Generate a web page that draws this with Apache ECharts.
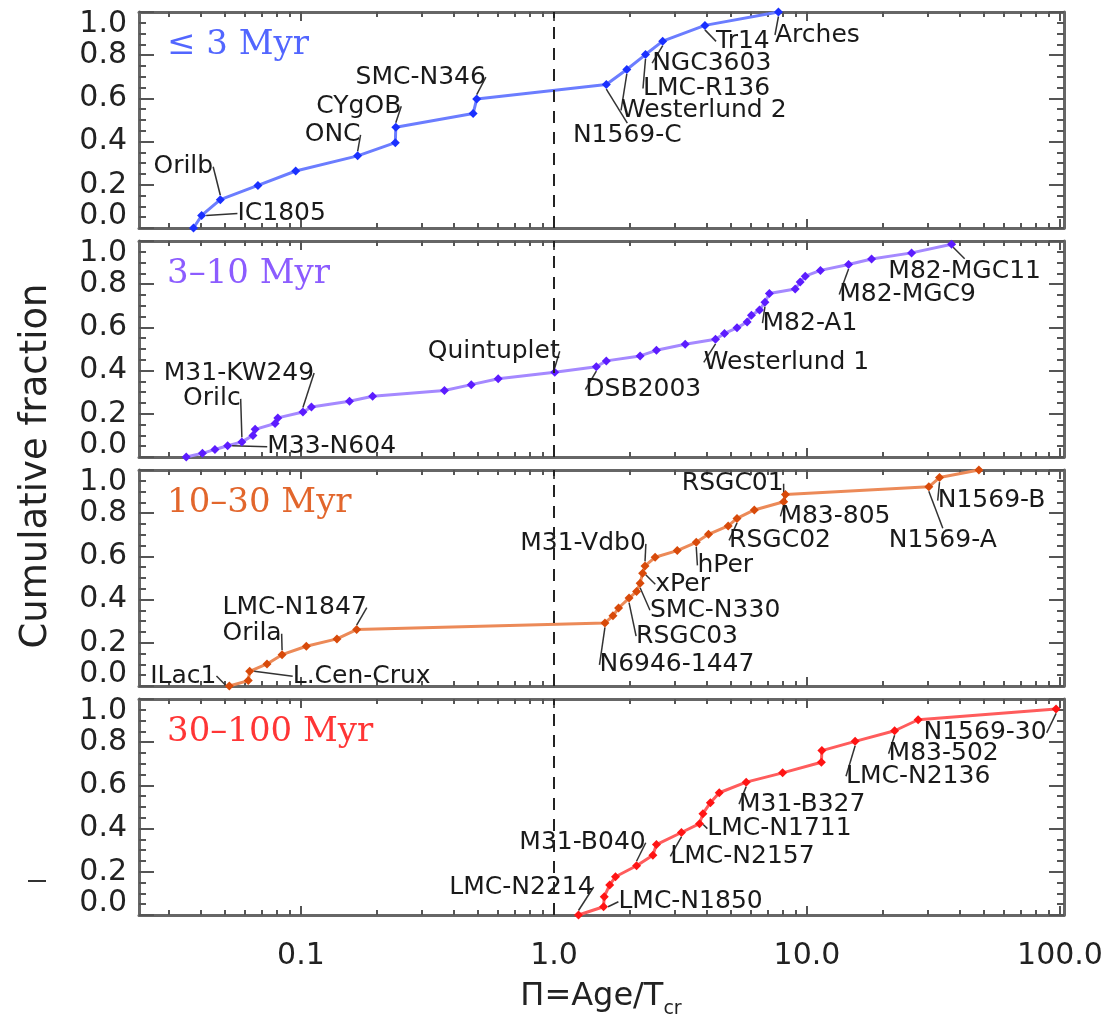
<!DOCTYPE html>
<html><head><meta charset="utf-8">
<script src="https://cdn.jsdelivr.net/npm/echarts@6/dist/echarts.min.js"></script>
<style>
html,body{margin:0;padding:0;background:#fff}
#wrap{position:relative;width:1102px;height:1016px}
#base,#c{position:absolute;left:0;top:0;width:1102px;height:1016px}
</style>
</head><body><div id="wrap"><div id="base"></div><div id="c"></div></div>
<script>
// ---------- data ----------
const xTickValues = [0.1, 1, 10, 100];
const xMinorValues = [0.03,0.04,0.05,0.06,0.07,0.08,0.09,0.2,0.3,0.4,0.5,0.6,0.7,0.8,0.9,2,3,4,5,6,7,8,9,20,30,40,50,60,70,80,90];
const panelNames = ['≤ 3 Myr', '3–10 Myr', '10–30 Myr', '30–100 Myr'];
const xTitle = 'Π=Age/T';
const xTitleSub = 'cr';
const yTitle = 'Cumulative fraction';

const p1X = [0.0376, 0.0405, 0.048, 0.0676, 0.0953, 0.1675, 0.236, 0.237, 0.479, 0.495, 1.61, 1.94, 2.30, 2.69, 3.95, 7.71];
const p1Y = [0.0, 0.058, 0.131, 0.197, 0.264, 0.334, 0.395, 0.466, 0.530, 0.597, 0.664, 0.734, 0.803, 0.865, 0.938, 1.0];
const p1Names = ['', 'IC1805', 'Orilb', '', '', 'ONC', '', 'CYgOB', '', 'SMC-N346', 'N1569-C', 'Westerlund 2', 'LMC-R136', 'NGC3603', 'Tr14', 'Arches'];

const p2X = [0.0352, 0.0408, 0.0457, 0.0513, 0.0584, 0.0646, 0.0659, 0.0790, 0.0810, 0.1018, 0.110, 0.1555, 0.192, 0.369, 0.471, 0.602, 1.007, 1.47, 1.61, 2.19, 2.54, 3.30, 4.35, 4.72, 5.29, 5.80, 6.03, 6.49, 6.82, 7.10, 8.98, 9.4, 9.84, 11.3, 14.6, 18.0, 25.9, 37.3];
const p2Y = [0.0, 0.017, 0.035, 0.052, 0.070, 0.100, 0.128, 0.155, 0.181, 0.208, 0.231, 0.258, 0.281, 0.308, 0.335, 0.362, 0.392, 0.418, 0.445, 0.468, 0.494, 0.522, 0.545, 0.572, 0.598, 0.625, 0.656, 0.680, 0.717, 0.757, 0.778, 0.810, 0.837, 0.864, 0.891, 0.917, 0.945, 0.985];
const p2Names = ['', '', '', 'M33-N604', 'Orilc', '', '', '', '', 'M31-KW249', '', '', '', '', '', '', 'Quintuplet', 'DSB2003', '', '', '', '', 'Westerlund 1', '', '', '', '', '', 'M82-A1', '', '', '', '', '', 'M82-MGC9', '', '', 'M82-MGC11'];

const p3X = [0.0521, 0.0619, 0.0627, 0.0734, 0.0842, 0.105, 0.1387, 0.166, 1.59, 1.71, 1.80, 1.98, 2.12, 2.19, 2.24, 2.29, 2.51, 3.07, 3.65, 4.08, 4.88, 5.29, 6.19, 8.09, 8.22, 30.3, 33.4, 47.8];
const p3Y = [0.0, 0.025, 0.068, 0.102, 0.145, 0.184, 0.218, 0.261, 0.292, 0.325, 0.361, 0.407, 0.437, 0.476, 0.522, 0.556, 0.596, 0.627, 0.665, 0.702, 0.741, 0.776, 0.815, 0.853, 0.887, 0.922, 0.965, 1.0];
const p3Names = ['ILac1', '', 'L.Cen-Crux', '', 'Orila', '', '', 'LMC-N1847', 'N6946-1447', '', '', 'RSGC03', '', 'SMC-N330', 'xPer', 'M31-Vdb0', '', '', 'hPer', '', '', 'RSGC02', '', 'RSGC01', 'M83-805', 'N1569-A', 'N1569-B', ''];

const p4X = [1.25, 1.57, 1.58, 1.66, 1.75, 2.12, 2.46, 2.54, 3.19, 3.76, 3.88, 4.15, 4.50, 5.75, 8.01, 11.4, 11.45, 15.5, 22.2, 27.5, 96.5];
const p4Y = [0.0, 0.038, 0.085, 0.139, 0.177, 0.228, 0.277, 0.326, 0.382, 0.423, 0.469, 0.520, 0.566, 0.615, 0.658, 0.707, 0.761, 0.804, 0.853, 0.904, 0.954];
const p4Names = ['LMC-N2214', 'LMC-N1850', '', '', '', 'M31-B040', '', '', 'LMC-N2157', 'LMC-N1711', '', '', '', 'M31-B327', '', '', '', 'LMC-N2136', 'M83-502', '', 'N1569-30'];

// ---------- layout / style (not data) ----------
const labelOffset = {
  'IC1805': [80, -2], 'Orilb': [-37, -33], 'ONC': [-25, -21], 'CYgOB': [-37, -21], 'SMC-N346': [-56, -22],
  'N1569-C': [21, 51], 'Westerlund 2': [77, 41], 'LMC-R136': [61, 34], 'NGC3603': [49, 22], 'Tr14': [38, 16], 'Arches': [39, 23],
  'M33-N604': [104, 1], 'Orilc': [-30, -43], 'M31-KW249': [-64, -39], 'Quintuplet': [-61, -21], 'DSB2003': [47, 23],
  'Westerlund 1': [71, 23], 'M82-A1': [45, 21], 'M82-MGC9': [59, 30], 'M82-MGC11': [13, 27],
  'ILac1': [-46, -10], 'L.Cen-Crux': [112, 5], 'Orila': [-30, -21], 'LMC-N1847': [-62, -22], 'N6946-1447': [72, 42],
  'RSGC03': [58, 38], 'SMC-N330': [75, 27], 'xPer': [40, 11], 'M31-Vdb0': [-62, -22], 'hPer': [29, 23], 'RSGC02': [43, 22],
  'RSGC01': [-51, -18], 'M83-805': [50, 22], 'N1569-A': [14, 54], 'N1569-B': [52, 23],
  'LMC-N2214': [-57, -28], 'LMC-N1850': [87, -5], 'M31-B040': [-54, -23], 'LMC-N2157': [61, 24], 'LMC-N1711': [80, 5],
  'M31-B327': [56, 22], 'LMC-N2136': [63, 35], 'M83-502': [49, 23], 'N1569-30': [-71, 24]
};
const X_MIN = 0.0229, X_MAX = 103.7;
const gridTops = [12, 241, 470, 699];
const gridH = 216;
const GL = 139, GR = 38;
const lineColors = ['#6b7dff', '#a589ff', '#ec8a58', '#ff5c5c'];
const markColors = ['#1a30ff', '#5c1cff', '#d84a0a', '#ff1414'];
const titleColors = ['#5266ff', '#8c5cff', '#e2662c', '#ff3535'];
const BOX = '#666', TICK = '#555';
const SANS = 'DejaVu Sans', SERIF = 'DejaVu Serif';

const panels = [[p1X, p1Y, p1Names], [p2X, p2Y, p2Names], [p3X, p3Y, p3Names], [p4X, p4Y, p4Names]];
const gridDef = i => ({left: GL, right: GR, top: gridTops[i], height: gridH, containLabel: false, outerBoundsMode: 'none'});

// ===== base layer: panel boxes and ticks =====
function baseX(i, pos, ticks, len, line) {
  return {type: 'log', gridIndex: i, position: pos, min: X_MIN, max: X_MAX, splitLine: {show: false},
    axisLine: {show: line, onZero: false, lineStyle: {color: BOX, width: 3}},
    axisTick: {show: true, inside: true, length: len, customValues: ticks, lineStyle: {color: TICK, width: 2}},
    axisLabel: {show: false}};
}
function baseY(i, pos) {
  return {type: 'value', gridIndex: i, position: pos, min: 0, max: 1, interval: 0.2, splitLine: {show: false},
    axisLine: {show: true, onZero: false, lineStyle: {color: BOX, width: 3}},
    axisTick: {show: true, inside: true, length: 15, lineStyle: {color: TICK, width: 2}},
    minorTick: {show: true, splitNumber: 4, length: 7, lineStyle: {color: TICK, width: 2}},
    axisLabel: {show: false}};
}
const bGrids = [], bX = [], bY = [], bSeries = [];
panels.forEach((p, i) => {
  bGrids.push(gridDef(i));
  const xs = bX.length, ys = bY.length;
  bX.push(baseX(i, 'bottom', xTickValues, 9, true), baseX(i, 'bottom', xMinorValues, 5, false),
          baseX(i, 'top', xTickValues, 9, true), baseX(i, 'top', xMinorValues, 5, false));
  bY.push(baseY(i, 'left'), baseY(i, 'right'));
  bSeries.push({type: 'line', xAxisIndex: xs, yAxisIndex: ys, data: [], silent: true});
});
echarts.init(document.getElementById('base')).setOption({
  backgroundColor: '#fff', animation: false, grid: bGrids, xAxis: bX, yAxis: bY, series: bSeries
});

// ===== top layer: labels, series, texts =====
function topX(i, isLabelAxis) {
  return {
    type: 'log', gridIndex: i, position: 'bottom', min: X_MIN, max: X_MAX, splitLine: {show: false},
    axisLine: {show: false, onZero: false}, axisTick: {show: false},
    axisLabel: isLabelAxis ? {
      show: true, customValues: xTickValues, margin: 26, hideOverlap: false,
      formatter: v => (v >= 1 ? Number(v).toFixed(1) : String(v)),
      fontFamily: SANS, fontSize: 30, color: '#222'
    } : {show: false}
  };
}
function topY(i) {
  return {
    type: 'value', gridIndex: i, position: 'left', min: 0, max: 1, interval: 0.2, splitLine: {show: false},
    axisLine: {show: false, onZero: false}, axisTick: {show: false}, minorTick: {show: false},
    axisLabel: {
      show: true, showMinLabel: true, showMaxLabel: true, hideOverlap: false, margin: 12,
      fontFamily: SANS, fontSize: 30, lineHeight: 24, color: '#222',
      formatter: v => Number(v).toFixed(1),
      verticalAlignMinLabel: 'bottom', verticalAlignMaxLabel: 'top'
    }
  };
}
const grids = [], xAxes = [], yAxes = [], series = [], graphics = [];
panels.forEach((p, i) => {
  grids.push(gridDef(i));
  xAxes.push(topX(i, i === panels.length - 1));
  yAxes.push(topY(i));
  const [xs, ys, names] = p;
  const data = xs.map((x, k) => ({
    value: [x, ys[k]], name: names[k],
    label: {show: !!names[k]}, labelLine: {show: !!names[k]}
  }));
  series.push({
    type: 'line', xAxisIndex: i, yAxisIndex: i, data,
    symbol: 'diamond', symbolSize: 9, animation: false,
    lineStyle: {color: lineColors[i], width: 3},
    itemStyle: {color: markColors[i]},
    label: {show: false, position: 'inside', formatter: '{b}', fontFamily: SANS, fontSize: 25, color: '#1a1a1a'},
    labelLine: {show: false, lineStyle: {color: '#333', width: 1.5}},
    labelLayout: params => {
      const nm = panels[params.seriesIndex][2][params.dataIndex];
      const off = labelOffset[nm];
      return off ? {dx: off[0], dy: off[1]} : {};
    },
    markLine: {
      silent: true, symbol: 'none', label: {show: false},
      lineStyle: {type: [12, 9], color: '#222', width: 2},
      data: [{xAxis: 1}]
    }
  });
  graphics.push({
    type: 'text', x: 167, y: gridTops[i] + 33,
    style: {text: panelNames[i], fill: titleColors[i], font: '34px "' + SERIF + '"', textAlign: 'left', textVerticalAlign: 'middle'}
  });
});
graphics.push({
  type: 'text', x: 36, y: 466, rotation: Math.PI / 2,
  style: {text: yTitle, fill: '#222', font: '37px "' + SANS + '"', textAlign: 'center', textVerticalAlign: 'middle'}
});
graphics.push({
  type: 'text', x: 601, y: 997,
  style: {
    text: xTitle + '{sub|' + xTitleSub + '}', fill: '#222', fontFamily: SANS, fontSize: 32, lineHeight: 44,
    textAlign: 'center', textVerticalAlign: 'middle',
    rich: {sub: {fontFamily: SANS, fontSize: 19, fill: '#222', verticalAlign: 'bottom', lineHeight: 44}}
  }
});
graphics.push({type: 'line', shape: {x1: 28, y1: 881, x2: 46, y2: 881}, style: {stroke: '#333', lineWidth: 2}});

echarts.init(document.getElementById('c')).setOption({
  backgroundColor: 'transparent', animation: false,
  grid: grids, xAxis: xAxes, yAxis: yAxes, series, graphic: graphics
});
</script></body></html>
